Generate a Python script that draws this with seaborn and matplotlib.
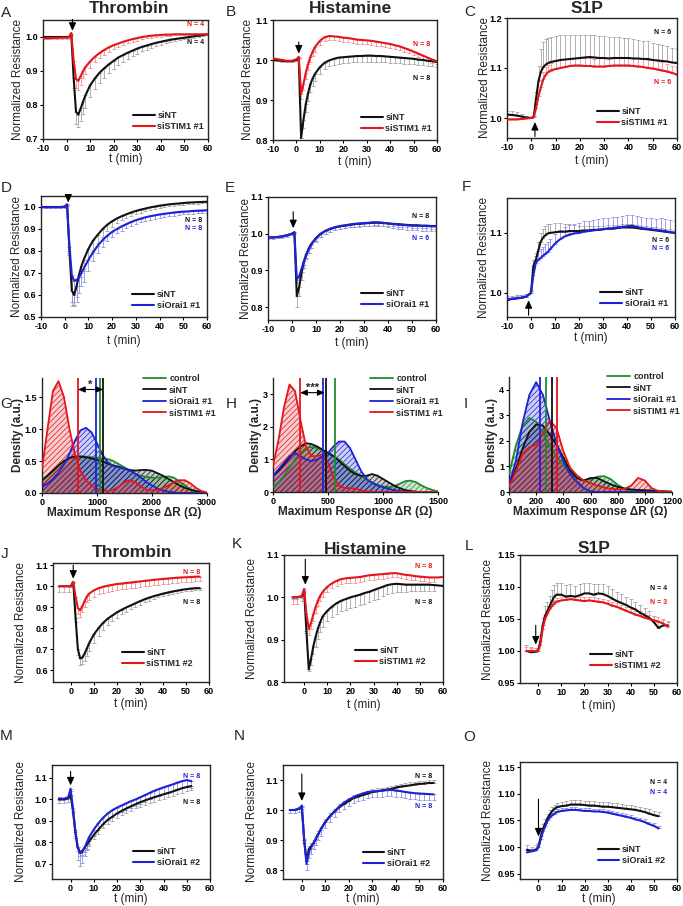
import numpy as np
import matplotlib
matplotlib.use("Agg")
import matplotlib.pyplot as plt
import matplotlib.transforms as mtransforms
from matplotlib.lines import Line2D
from matplotlib.ticker import FormatStrFormatter
import seaborn as sns

# ---------------- time course data (rows 1-2) ----------------
t_long = [-10, -8, -6, -4, -2, 0, 1, 2, 3, 4,
          5, 6, 7, 8, 10, 12, 14, 16, 18, 20,
          22, 24, 26, 28, 30, 32, 34, 36, 38, 40,
          42, 44, 46, 48, 50, 52, 54, 56, 58, 60]

a_nt = [1.0, 1.0, 1.0, 1.0, 1.0, 1.0, 1.0, 1.008, 0.88, 0.78,
        0.772, 0.79, 0.81, 0.828, 0.858, 0.878, 0.895, 0.908, 0.92, 0.93,
        0.94, 0.947, 0.954, 0.96, 0.966, 0.971, 0.975, 0.979, 0.983, 0.986,
        0.989, 0.992, 0.994, 0.996, 0.998, 1.0, 1.002, 1.004, 1.006, 1.008]
a_nt_err = [0, 0, 0, 0, 0, 0, 0, 0.004, 0.03, 0.035,
            0.038, 0.038, 0.037, 0.036, 0.034, 0.032, 0.03, 0.028, 0.026, 0.024,
            0.022, 0.02, 0.018, 0.016, 0.015, 0.013, 0.012, 0.011, 0.01, 0.009,
            0.008, 0.007, 0.006, 0.005, 0.005, 0.004, 0.004, 0.003, 0.003, 0.003]
a_stim = [0.996, 0.996, 0.997, 0.997, 0.998, 0.998, 0.999, 1.012, 0.93, 0.876,
          0.872, 0.885, 0.9, 0.912, 0.928, 0.942, 0.953, 0.962, 0.97, 0.976,
          0.981, 0.986, 0.99, 0.994, 0.997, 1.0, 1.002, 1.004, 1.005, 1.006,
          1.007, 1.007, 1.008, 1.008, 1.008, 1.008, 1.008, 1.008, 1.008, 1.008]
a_stim_err = [0.003, 0.003, 0.003, 0.003, 0.003, 0.003, 0.003, 0.005, 0.02, 0.025,
              0.027, 0.025, 0.022, 0.02, 0.018, 0.016, 0.015, 0.014, 0.013, 0.012,
              0.011, 0.01, 0.009, 0.008, 0.008, 0.007, 0.006, 0.006, 0.005, 0.005,
              0.004, 0.004, 0.003, 0.003, 0.003, 0.003, 0.002, 0.002, 0.002, 0.002]

b_nt = [1.0, 0.999, 0.998, 0.997, 0.997, 1.0, 1.004, 0.805, 0.85, 0.89,
        0.918, 0.94, 0.955, 0.966, 0.982, 0.993, 0.999, 1.003, 1.006, 1.007,
        1.008, 1.009, 1.01, 1.01, 1.011, 1.011, 1.01, 1.01, 1.009, 1.008,
        1.007, 1.006, 1.005, 1.004, 1.003, 1.001, 1.0, 0.998, 0.997, 0.995]
b_nt_err = [0.002, 0.002, 0.002, 0.002, 0.002, 0.002, 0.002, 0.0, 0.02, 0.02,
            0.02, 0.02, 0.019, 0.018, 0.017, 0.016, 0.015, 0.015, 0.015, 0.015,
            0.015, 0.015, 0.015, 0.015, 0.015, 0.015, 0.015, 0.015, 0.015, 0.015,
            0.014, 0.014, 0.014, 0.014, 0.013, 0.013, 0.013, 0.013, 0.012, 0.012]
b_stim = [1.004, 1.002, 1.0, 0.998, 0.998, 1.002, 1.008, 0.915, 0.94, 0.968,
          0.99, 1.008, 1.022, 1.033, 1.048, 1.057, 1.06, 1.059, 1.058, 1.056,
          1.055, 1.053, 1.051, 1.05, 1.049, 1.048, 1.046, 1.044, 1.042, 1.04,
          1.037, 1.034, 1.03, 1.026, 1.021, 1.016, 1.011, 1.006, 1.001, 0.997]
b_stim_err = [0.003, 0.003, 0.003, 0.003, 0.003, 0.003, 0.003, 0.012, 0.015, 0.015,
              0.015, 0.014, 0.013, 0.012, 0.011, 0.01, 0.01, 0.01, 0.01, 0.01,
              0.01, 0.01, 0.01, 0.01, 0.01, 0.01, 0.01, 0.01, 0.01, 0.01,
              0.01, 0.01, 0.009, 0.009, 0.009, 0.008, 0.008, 0.008, 0.008, 0.008]

c_nt = [1.007, 1.006, 1.005, 1.003, 1.001, 1.0, 1.002, 1.04, 1.075, 1.093,
        1.102, 1.107, 1.11, 1.112, 1.114, 1.116, 1.117, 1.118, 1.119, 1.12,
        1.121, 1.122, 1.121, 1.12, 1.12, 1.119, 1.12, 1.12, 1.12, 1.12,
        1.119, 1.119, 1.118, 1.118, 1.116, 1.115, 1.114, 1.113, 1.111, 1.11]
c_nt_err = [0.008, 0.008, 0.007, 0.006, 0.004, 0.003, 0.004, 0.012, 0.03, 0.045,
            0.05, 0.05, 0.05, 0.05, 0.05, 0.049, 0.048, 0.047, 0.046, 0.045,
            0.045, 0.044, 0.044, 0.044, 0.044, 0.043, 0.042, 0.041, 0.04, 0.039,
            0.038, 0.037, 0.036, 0.035, 0.034, 0.033, 0.031, 0.03, 0.028, 0.027]
c_stim = [0.997, 0.997, 0.997, 0.998, 0.999, 1.0, 1.002, 1.02, 1.045, 1.062,
          1.078, 1.087, 1.092, 1.095, 1.098, 1.1, 1.102, 1.104, 1.105, 1.105,
          1.104, 1.104, 1.103, 1.103, 1.103, 1.104, 1.105, 1.105, 1.105, 1.105,
          1.104, 1.103, 1.102, 1.1, 1.099, 1.097, 1.095, 1.093, 1.09, 1.087]
c_stim_err = [0.004, 0.004, 0.004, 0.003, 0.003, 0.003, 0.003, 0.008, 0.012, 0.015,
              0.015, 0.015, 0.015, 0.015, 0.015, 0.015, 0.015, 0.015, 0.015, 0.015,
              0.015, 0.015, 0.015, 0.016, 0.016, 0.016, 0.016, 0.016, 0.016, 0.016,
              0.016, 0.016, 0.016, 0.016, 0.016, 0.016, 0.016, 0.015, 0.015, 0.015]

d_nt = [1.0, 1.0, 1.0, 1.0, 1.0, 1.002, 1.012, 0.8, 0.62, 0.6,
        0.64, 0.69, 0.73, 0.76, 0.81, 0.848, 0.875, 0.9, 0.92, 0.935,
        0.948, 0.958, 0.967, 0.975, 0.982, 0.988, 0.993, 0.998, 1.002, 1.006,
        1.009, 1.012, 1.014, 1.016, 1.018, 1.02, 1.021, 1.022, 1.023, 1.024]
d_nt_err = [0.002, 0.002, 0.002, 0.002, 0.002, 0.002, 0.002, 0.02, 0.07, 0.05,
            0.05, 0.05, 0.05, 0.05, 0.05, 0.045, 0.04, 0.035, 0.03, 0.025,
            0.02, 0.018, 0.016, 0.015, 0.014, 0.013, 0.012, 0.011, 0.01, 0.01,
            0.01, 0.009, 0.009, 0.008, 0.008, 0.008, 0.007, 0.007, 0.007, 0.007]
d_orai = [1.0, 0.999, 0.999, 0.999, 0.999, 1.0, 1.008, 0.82, 0.69, 0.665,
          0.668, 0.68, 0.7, 0.72, 0.76, 0.795, 0.825, 0.85, 0.87, 0.887,
          0.9, 0.912, 0.922, 0.932, 0.94, 0.947, 0.953, 0.958, 0.962, 0.966,
          0.969, 0.972, 0.975, 0.977, 0.979, 0.98, 0.982, 0.983, 0.984, 0.985]
d_orai_err = [0.003, 0.003, 0.003, 0.003, 0.003, 0.003, 0.003, 0.03, 0.12, 0.11,
              0.1, 0.07, 0.06, 0.06, 0.05, 0.04, 0.035, 0.03, 0.025, 0.022,
              0.02, 0.02, 0.018, 0.018, 0.017, 0.016, 0.016, 0.015, 0.015, 0.015,
              0.015, 0.014, 0.014, 0.014, 0.013, 0.013, 0.013, 0.012, 0.012, 0.012]

e_nt = [0.99, 0.99, 0.991, 0.993, 0.996, 1.0, 1.004, 0.83, 0.855, 0.895,
        0.925, 0.945, 0.96, 0.972, 0.988, 1.0, 1.008, 1.013, 1.017, 1.02,
        1.022, 1.024, 1.026, 1.027, 1.028, 1.029, 1.03, 1.03, 1.029, 1.028,
        1.027, 1.026, 1.025, 1.024, 1.023, 1.023, 1.022, 1.022, 1.021, 1.021]
e_nt_err = [0.002, 0.002, 0.002, 0.002, 0.002, 0.002, 0.002, 0.03, 0.025, 0.02,
            0.018, 0.015, 0.013, 0.012, 0.01, 0.009, 0.008, 0.008, 0.007, 0.007,
            0.007, 0.007, 0.007, 0.007, 0.007, 0.007, 0.007, 0.007, 0.007, 0.007,
            0.007, 0.007, 0.007, 0.007, 0.007, 0.007, 0.007, 0.007, 0.007, 0.007]
e_orai = [0.99, 0.99, 0.991, 0.993, 0.996, 1.0, 1.004, 0.875, 0.885, 0.905,
          0.925, 0.943, 0.958, 0.97, 0.988, 1.0, 1.008, 1.014, 1.018, 1.021,
          1.023, 1.025, 1.027, 1.028, 1.029, 1.03, 1.031, 1.031, 1.03, 1.028,
          1.026, 1.025, 1.024, 1.023, 1.022, 1.022, 1.021, 1.021, 1.02, 1.02]
e_orai_err = [0.004, 0.004, 0.004, 0.004, 0.004, 0.004, 0.004, 0.01, 0.01, 0.01,
              0.01, 0.01, 0.01, 0.009, 0.009, 0.008, 0.008, 0.008, 0.008, 0.008,
              0.008, 0.008, 0.008, 0.009, 0.009, 0.009, 0.01, 0.01, 0.01, 0.011,
              0.011, 0.012, 0.012, 0.012, 0.013, 0.013, 0.013, 0.013, 0.013, 0.013]

f_nt = [0.988, 0.99, 0.991, 0.992, 0.994, 1.0, 1.045, 1.055, 1.07, 1.085,
        1.092, 1.096, 1.099, 1.1, 1.101, 1.102, 1.102, 1.103, 1.103, 1.103,
        1.104, 1.104, 1.105, 1.105, 1.106, 1.107, 1.107, 1.108, 1.109, 1.109,
        1.109, 1.108, 1.107, 1.106, 1.105, 1.104, 1.103, 1.102, 1.101, 1.1]
f_nt_err = [0.004, 0.004, 0.004, 0.004, 0.004, 0.004, 0.01, 0.012, 0.015, 0.015,
            0.015, 0.015, 0.015, 0.015, 0.015, 0.014, 0.013, 0.012, 0.01, 0.009,
            0.008, 0.007, 0.007, 0.006, 0.006, 0.006, 0.006, 0.005, 0.005, 0.005,
            0.005, 0.005, 0.005, 0.005, 0.005, 0.005, 0.005, 0.005, 0.005, 0.005]
f_orai = [0.99, 0.99, 0.991, 0.992, 0.994, 1.0, 1.03, 1.05, 1.055, 1.058,
          1.062, 1.065, 1.068, 1.073, 1.082, 1.089, 1.094, 1.097, 1.099, 1.1,
          1.102, 1.103, 1.104, 1.105, 1.106, 1.107, 1.108, 1.109, 1.11, 1.111,
          1.112, 1.11, 1.108, 1.107, 1.106, 1.105, 1.104, 1.103, 1.101, 1.1]
f_orai_err = [0.005, 0.005, 0.005, 0.005, 0.005, 0.005, 0.01, 0.012, 0.015, 0.015,
              0.015, 0.016, 0.016, 0.016, 0.016, 0.016, 0.016, 0.016, 0.016, 0.017,
              0.017, 0.017, 0.017, 0.018, 0.018, 0.018, 0.018, 0.018, 0.018, 0.018,
              0.018, 0.018, 0.018, 0.018, 0.018, 0.018, 0.02, 0.02, 0.02, 0.02]

# ---------------- time course data (rows 4-5) ----------------
t_short = [-5, -3, -1, 0, 1, 2, 3, 4, 5, 6,
           7, 8, 10, 12, 14, 16, 18, 20, 22, 24,
           26, 28, 30, 32, 34, 36, 38, 40, 42, 44,
           46, 48, 50, 52, 54, 56, 58, 60]

j_nt = [1.0, 1.0, 1.0, 1.0, 1.02, 0.85, 0.7, 0.655, 0.66, 0.68,
        0.705, 0.73, 0.77, 0.8, 0.825, 0.845, 0.86, 0.875, 0.887, 0.898,
        0.908, 0.918, 0.928, 0.937, 0.945, 0.952, 0.958, 0.964, 0.969, 0.974,
        0.978, 0.982, 0.985, 0.988, 0.99, 0.99]
j_nt_err = [0.003, 0.003, 0.003, 0.003, 0.003, 0.02, 0.03, 0.03, 0.03, 0.035,
            0.04, 0.04, 0.04, 0.038, 0.035, 0.03, 0.027, 0.025, 0.022, 0.02,
            0.018, 0.017, 0.016, 0.015, 0.014, 0.013, 0.012, 0.012, 0.011, 0.011,
            0.01, 0.01, 0.01, 0.01, 0.01, 0.01]
j_stim = [1.0, 1.0, 1.0, 1.0, 1.02, 0.95, 0.895, 0.885, 0.905, 0.93,
          0.952, 0.965, 0.98, 0.99, 0.997, 1.002, 1.006, 1.01, 1.012, 1.015,
          1.017, 1.02, 1.022, 1.025, 1.027, 1.03, 1.032, 1.034, 1.036, 1.038,
          1.04, 1.041, 1.042, 1.043, 1.045, 1.045]
j_stim_err = [0.03, 0.03, 0.03, 0.0, 0.005, 0.03, 0.03, 0.03, 0.03, 0.03,
              0.03, 0.03, 0.03, 0.03, 0.03, 0.03, 0.03, 0.03, 0.028, 0.028,
              0.028, 0.027, 0.027, 0.026, 0.026, 0.025, 0.025, 0.025, 0.024, 0.024,
              0.023, 0.023, 0.022, 0.022, 0.021, 0.02]

k_nt = [1.0, 1.0, 1.002, 1.015, 0.92, 0.83, 0.855, 0.885, 0.908, 0.927,
        0.942, 0.955, 0.968, 0.978, 0.986, 0.992, 0.996, 1.0, 1.003, 1.006,
        1.01, 1.013, 1.017, 1.021, 1.025, 1.029, 1.031, 1.032, 1.031, 1.03,
        1.03, 1.03, 1.03, 1.03, 1.03, 1.029, 1.028, 1.027]
k_nt_err = [0.003, 0.003, 0.003, 0.003, 0.005, 0.005, 0.015, 0.02, 0.025, 0.025,
            0.025, 0.025, 0.025, 0.025, 0.025, 0.025, 0.025, 0.025, 0.025, 0.025,
            0.025, 0.025, 0.024, 0.024, 0.023, 0.022, 0.02, 0.02, 0.018, 0.017,
            0.016, 0.015, 0.015, 0.015, 0.015, 0.015, 0.0, 0.0]
k_stim = [1.0, 1.0, 1.003, 1.02, 0.96, 0.925, 0.94, 0.96, 0.978, 0.993,
          1.004, 1.013, 1.025, 1.033, 1.039, 1.043, 1.045, 1.046, 1.047, 1.048,
          1.05, 1.052, 1.053, 1.054, 1.055, 1.056, 1.057, 1.057, 1.055, 1.053,
          1.052, 1.05, 1.049, 1.048, 1.047, 1.047, 1.047, 1.048]
k_stim_err = [0.015, 0.015, 0.012, 0.01, 0.01, 0.015, 0.015, 0.015, 0.014, 0.013,
              0.013, 0.012, 0.012, 0.012, 0.012, 0.012, 0.012, 0.012, 0.012, 0.012,
              0.011, 0.011, 0.011, 0.011, 0.011, 0.011, 0.01, 0.01, 0.01, 0.01,
              0.01, 0.01, 0.01, 0.01, 0.01, 0.01, 0.0, 0.0]

l_nt = [1.0, 0.998, 0.999, 1.0, 1.015, 1.04, 1.055, 1.062, 1.07, 1.078,
        1.085, 1.088, 1.088, 1.085, 1.086, 1.085, 1.087, 1.09, 1.09, 1.088,
        1.09, 1.089, 1.086, 1.082, 1.078, 1.075, 1.072, 1.068, 1.065, 1.06,
        1.056, 1.052, 1.045, 1.036, 1.04, 1.04]
l_nt_err = [0.01, 0.008, 0.005, 0.004, 0.01, 0.012, 0.015, 0.015, 0.016, 0.017,
            0.018, 0.018, 0.018, 0.018, 0.018, 0.017, 0.017, 0.016, 0.016, 0.016,
            0.015, 0.015, 0.015, 0.015, 0.014, 0.014, 0.013, 0.013, 0.012, 0.012,
            0.011, 0.01, 0.01, 0.01, 0.008, 0.007]
l_stim = [1.0, 1.0, 1.0, 1.0, 1.01, 1.035, 1.05, 1.058, 1.065, 1.07,
          1.074, 1.077, 1.079, 1.08, 1.081, 1.08, 1.079, 1.078, 1.079, 1.078,
          1.077, 1.076, 1.074, 1.071, 1.069, 1.066, 1.063, 1.06, 1.057, 1.055,
          1.052, 1.05, 1.048, 1.046, 1.043, 1.038]
l_stim_err = [0.006, 0.005, 0.005, 0.004, 0.005, 0.006, 0.006, 0.006, 0.006, 0.006,
              0.006, 0.006, 0.006, 0.006, 0.006, 0.006, 0.006, 0.006, 0.006, 0.006,
              0.006, 0.006, 0.006, 0.006, 0.006, 0.006, 0.006, 0.006, 0.006, 0.007,
              0.007, 0.007, 0.007, 0.007, 0.007, 0.007]

m_nt = [1.0, 1.0, 1.005, 1.02, 0.95, 0.85, 0.78, 0.755, 0.76, 0.775,
        0.79, 0.805, 0.835, 0.86, 0.885, 0.905, 0.92, 0.935, 0.947, 0.958,
        0.968, 0.978, 0.987, 0.995, 1.003, 1.01, 1.017, 1.024, 1.03, 1.037,
        1.045, 1.052, 1.058, 1.062]
m_nt_err = [0.005, 0.005, 0.005, 0.005, 0.01, 0.02, 0.02, 0.02, 0.02, 0.02,
            0.02, 0.02, 0.02, 0.02, 0.02, 0.02, 0.02, 0.02, 0.02, 0.02,
            0.02, 0.02, 0.02, 0.02, 0.02, 0.02, 0.02, 0.02, 0.02, 0.02,
            0.02, 0.02, 0.02, 0.02]
m_orai = [1.005, 1.003, 1.01, 1.05, 0.96, 0.86, 0.78, 0.75, 0.755, 0.775,
          0.8, 0.825, 0.86, 0.89, 0.915, 0.935, 0.95, 0.962, 0.972, 0.982,
          0.992, 1.0, 1.01, 1.02, 1.03, 1.04, 1.048, 1.056, 1.063, 1.07,
          1.078, 1.085, 1.09, 1.085]
m_orai_err = [0.02, 0.02, 0.02, 0.01, 0.02, 0.04, 0.06, 0.06, 0.05, 0.04,
              0.035, 0.03, 0.03, 0.03, 0.03, 0.03, 0.03, 0.03, 0.03, 0.03,
              0.03, 0.03, 0.03, 0.03, 0.03, 0.03, 0.03, 0.03, 0.03, 0.03,
              0.03, 0.03, 0.03, 0.03]

n_nt = [1.0, 1.0, 1.005, 1.01, 0.9, 0.83, 0.87, 0.88, 0.89, 0.905,
        0.92, 0.935, 0.96, 0.98, 0.995, 1.01, 1.02, 1.03, 1.04, 1.045,
        1.05, 1.055, 1.06, 1.062, 1.065, 1.068, 1.07, 1.075, 1.078, 1.08,
        1.082, 1.085, 1.087, 1.088, 1.09, 1.09]
n_nt_err = [0.005, 0.005, 0.005, 0.005, 0.005, 0.005, 0.01, 0.01, 0.01, 0.01,
            0.01, 0.01, 0.01, 0.01, 0.01, 0.01, 0.01, 0.01, 0.01, 0.01,
            0.01, 0.01, 0.01, 0.01, 0.01, 0.01, 0.01, 0.01, 0.01, 0.01,
            0.01, 0.01, 0.01, 0.01, 0.01, 0.01]
n_orai = [1.0, 1.0, 1.005, 1.015, 0.9, 0.82, 0.86, 0.875, 0.89, 0.905,
          0.92, 0.935, 0.96, 0.98, 0.997, 1.012, 1.025, 1.035, 1.043, 1.05,
          1.055, 1.06, 1.062, 1.063, 1.065, 1.066, 1.067, 1.065, 1.063, 1.06,
          1.058, 1.056, 1.055, 1.054, 1.053, 1.052]
n_orai_err = [0.01, 0.01, 0.01, 0.01, 0.01, 0.02, 0.02, 0.02, 0.02, 0.02,
              0.02, 0.02, 0.02, 0.02, 0.02, 0.02, 0.02, 0.02, 0.02, 0.02,
              0.02, 0.02, 0.02, 0.02, 0.02, 0.02, 0.02, 0.02, 0.02, 0.02,
              0.02, 0.02, 0.02, 0.02, 0.02, 0.02]

o_nt = [0.995, 0.993, 0.995, 1.0, 1.02, 1.035, 1.045, 1.055, 1.062, 1.068,
        1.072, 1.075, 1.077, 1.078, 1.08, 1.08, 1.08, 1.079, 1.078, 1.078,
        1.077, 1.076, 1.076, 1.075, 1.074, 1.073, 1.072, 1.071, 1.07, 1.068,
        1.066, 1.063, 1.06, 1.058]
o_nt_err = [0.008, 0.008, 0.008, 0.008, 0.008, 0.008, 0.008, 0.008, 0.008, 0.008,
            0.008, 0.008, 0.008, 0.008, 0.008, 0.008, 0.008, 0.008, 0.008, 0.008,
            0.008, 0.008, 0.008, 0.008, 0.008, 0.008, 0.008, 0.008, 0.008, 0.008,
            0.008, 0.008, 0.008, 0.008]
o_orai = [0.99, 0.992, 0.994, 1.0, 1.015, 1.03, 1.04, 1.05, 1.056, 1.06,
          1.063, 1.066, 1.068, 1.069, 1.07, 1.07, 1.069, 1.068, 1.068, 1.067,
          1.067, 1.066, 1.065, 1.063, 1.061, 1.059, 1.057, 1.055, 1.052, 1.05,
          1.047, 1.043, 1.04, 1.035]
o_orai_err = [0.005, 0.005, 0.005, 0.005, 0.005, 0.005, 0.005, 0.005, 0.005, 0.005,
              0.005, 0.005, 0.005, 0.005, 0.005, 0.005, 0.005, 0.005, 0.005, 0.005,
              0.005, 0.005, 0.005, 0.005, 0.005, 0.005, 0.005, 0.005, 0.005, 0.005,
              0.005, 0.005, 0.005, 0.005]

# ---------------- density data (row 3) ----------------
dens_labels = ['control', 'siNT', 'siOrai1 #1', 'siSTIM1 #1']

g_x = [0, 100, 200, 300, 400, 500, 600, 700, 800, 900,
       1000, 1100, 1200, 1300, 1400, 1500, 1600, 1700, 1800, 1900,
       2000, 2100, 2200, 2300, 2400, 2500, 2600, 2700, 2800, 2900, 3000]
g_ctrl = [0.2, 0.27, 0.35, 0.43, 0.5, 0.55, 0.57, 0.575, 0.57, 0.56,
          0.55, 0.54, 0.53, 0.5, 0.45, 0.4, 0.35, 0.3, 0.27, 0.25,
          0.24, 0.24, 0.25, 0.26, 0.24, 0.18, 0.12, 0.06, 0.03, 0.01, 0.0]
g_nt = [0.2, 0.27, 0.35, 0.43, 0.5, 0.55, 0.57, 0.57, 0.56, 0.54,
        0.52, 0.49, 0.46, 0.43, 0.41, 0.38, 0.36, 0.35, 0.36, 0.36,
        0.35, 0.31, 0.27, 0.22, 0.17, 0.12, 0.08, 0.05, 0.03, 0.01, 0.0]
g_orai = [0.1, 0.15, 0.22, 0.32, 0.45, 0.62, 0.82, 0.98, 1.02, 0.95,
          0.78, 0.6, 0.48, 0.42, 0.4, 0.38, 0.35, 0.3, 0.24, 0.17,
          0.12, 0.07, 0.04, 0.02, 0.01, 0.0, 0.0, 0.0, 0.0, 0.0, 0.0]
g_stim = [0.38, 1.0, 1.6, 1.75, 1.5, 1.0, 0.6, 0.35, 0.2, 0.12,
          0.07, 0.04, 0.03, 0.05, 0.1, 0.17, 0.2, 0.17, 0.1, 0.05,
          0.04, 0.05, 0.08, 0.12, 0.17, 0.2, 0.2, 0.15, 0.08, 0.03, 0.01]
g_vlines = [1054, 1115, 976, 654]

h_x = [0, 50, 100, 150, 200, 250, 300, 350, 400, 450,
       500, 550, 600, 650, 700, 750, 800, 850, 900, 950,
       1000, 1050, 1100, 1150, 1200, 1250, 1300, 1350, 1400, 1450, 1500]
h_ctrl = [0.15, 0.3, 0.5, 0.75, 1.0, 1.2, 1.35, 1.38, 1.35, 1.28,
          1.2, 1.1, 1.0, 0.85, 0.72, 0.6, 0.48, 0.38, 0.3, 0.22,
          0.17, 0.15, 0.18, 0.25, 0.33, 0.35, 0.3, 0.2, 0.12, 0.06, 0.02]
h_nt = [0.5, 0.65, 0.85, 1.05, 1.25, 1.4, 1.5, 1.47, 1.4, 1.3,
        1.2, 1.1, 0.95, 0.8, 0.65, 0.55, 0.5, 0.5, 0.55, 0.5,
        0.4, 0.3, 0.2, 0.12, 0.06, 0.03, 0.01, 0.0, 0.0, 0.0, 0.0]
h_orai = [0.5, 0.7, 0.9, 1.1, 1.2, 1.1, 1.0, 0.95, 1.0, 1.08,
          1.2, 1.4, 1.55, 1.55, 1.35, 1.0, 0.65, 0.4, 0.28, 0.2,
          0.15, 0.1, 0.06, 0.03, 0.01, 0.0, 0.0, 0.0, 0.0, 0.0, 0.0]
h_stim = [0.8, 1.6, 2.6, 3.3, 3.1, 2.2, 1.4, 1.1, 1.1, 1.15,
          0.9, 0.45, 0.2, 0.12, 0.12, 0.1, 0.05, 0.02, 0.0, 0.0,
          0.0, 0.0, 0.0, 0.0, 0.0, 0.0, 0.0, 0.0, 0.0, 0.0, 0.0]
h_vlines = [564, 478, 453, 246]

i_x = [0, 50, 100, 150, 200, 250, 300, 350, 400, 450,
       500, 550, 600, 650, 700, 750, 800, 850, 900, 950,
       1000, 1050, 1100, 1150, 1200]
i_ctrl = [0.7, 1.8, 2.6, 2.9, 2.75, 2.3, 1.8, 1.4, 1.05, 0.75,
          0.55, 0.45, 0.5, 0.6, 0.62, 0.5, 0.28, 0.12, 0.06, 0.05,
          0.05, 0.05, 0.04, 0.03, 0.02]
i_nt = [0.3, 0.9, 1.7, 2.35, 2.65, 2.6, 2.25, 1.85, 1.35, 0.85,
        0.55, 0.45, 0.55, 0.55, 0.42, 0.3, 0.2, 0.14, 0.1, 0.08,
        0.07, 0.05, 0.03, 0.02, 0.01]
i_orai = [0.3, 1.2, 2.7, 3.8, 4.3, 3.8, 2.8, 1.9, 1.2, 0.7,
          0.4, 0.15, 0.03, 0.0, 0.0, 0.0, 0.0, 0.0, 0.0, 0.0,
          0.0, 0.0, 0.0, 0.0, 0.0]
i_stim = [0.2, 0.8, 1.5, 1.75, 1.85, 2.3, 2.8, 2.5, 1.6, 0.95,
          0.65, 0.45, 0.35, 0.25, 0.18, 0.13, 0.1, 0.12, 0.25, 0.55,
          0.45, 0.15, 0.04, 0.01, 0.0]
i_vlines = [275, 317, 231, 353]

# ---------------- styling ----------------
sns.set_theme(style="ticks")
plt.rcParams['font.family'] = ['Liberation Sans', 'DejaVu Sans']
plt.rcParams['hatch.linewidth'] = 0.5
plt.rcParams['axes.linewidth'] = 1.0

W, H = 683, 906
fig = plt.figure(figsize=(W / 100, H / 100), dpi=100)

BLACK = '#111111'
RED = '#e3161c'
BLUE = '#1d22d6'
GREEN = '#1f8a2e'
ERR = {BLACK: '#a3a3a3', RED: '#f09090', BLUE: '#9090e8'}
TICK_SIZE = 6.5


def fx(x):
    return x / W


def fy(y):
    return 1 - y / H


def new_ax(l, t, r, b):
    return fig.add_axes([l / W, 1 - b / H, (r - l) / W, (b - t) / H])


def style_ticks(ax, xfmt, yfmt):
    ax.tick_params(direction='out', length=2.5, width=0.8, labelsize=TICK_SIZE,
                   pad=1.0, colors='black')
    ax.xaxis.set_major_formatter(FormatStrFormatter(xfmt))
    ax.yaxis.set_major_formatter(FormatStrFormatter(yfmt))
    for lab in ax.get_xticklabels() + ax.get_yticklabels():
        lab.set_fontweight('bold')


def labels(ax, xl, yl, xl_cy, yl_cx, bold=False, size=8.5):
    w = 'bold' if bold else 'normal'
    ax.set_xlabel(xl, fontsize=size, fontweight=w)
    ax.set_ylabel(yl, fontsize=size, fontweight=w)
    ax.xaxis.set_label_coords(0.5, fy(xl_cy),
                              transform=mtransforms.blended_transform_factory(ax.transAxes, fig.transFigure))
    ax.yaxis.set_label_coords(fx(yl_cx), 0.5,
                              transform=mtransforms.blended_transform_factory(fig.transFigure, ax.transAxes))
    ax.xaxis.label.set_va('center')
    ax.yaxis.label.set_va('center')


def course(box, t, series, xlim, ylim, xticks, yticks, yfmt, legend_rb,
           xl_cy, yl_cx, arrow, ntext):
    ax = new_ax(*box)
    for y, e, c, up, lab in series:
        tt = t[:len(y)]
        z = np.zeros(len(y))
        yerr = [z, np.array(e)] if up else [np.array(e), z]
        ax.errorbar(tt, y, yerr=yerr, fmt='none', ecolor=ERR[c], elinewidth=0.6,
                    capsize=1.3, capthick=0.6, zorder=1)
    for y, e, c, up, lab in series:
        sns.lineplot(x=t[:len(y)], y=y, ax=ax, color=c, lw=1.5, legend=False, zorder=3)
    ax.set_xlim(*xlim)
    ax.set_ylim(*ylim)
    ax.set_xticks(xticks)
    ax.set_yticks(yticks)
    style_ticks(ax, '%d', yfmt)
    labels(ax, 't (min)', 'Normalized Resistance', xl_cy, yl_cx)
    handles = [Line2D([], [], color=s[2], lw=1.5) for s in series]
    ax.legend(handles, [s[4] for s in series], loc='lower right',
              bbox_to_anchor=(fx(legend_rb[0]), fy(legend_rb[1])),
              bbox_transform=fig.transFigure, frameon=False,
              prop=dict(weight='bold', size=6.5), handlelength=2.4,
              handletextpad=0.3, labelspacing=0.25, borderpad=0, borderaxespad=0)
    at, a0, a1 = arrow
    ax.annotate('', xy=(at, a1), xytext=(at, a0), annotation_clip=False,
                arrowprops=dict(arrowstyle='-|>,head_length=0.4,head_width=0.18',
                                color='black', lw=0.8, shrinkA=0, shrinkB=0))
    for txt, c, x, y in ntext:
        fig.text(fx(x), fy(y), txt, color=c, fontsize=5, fontweight='bold',
                 ha='right', va='center')
    return ax


def density(box, x, curves, vlines, xlim, ylim, xticks, yticks, yfmt,
            legend_lt, xl_cy, yl_cx, sig):
    ax = new_ax(*box)
    colors = [GREEN, BLACK, BLUE, RED]
    for y, c in zip(curves, colors):
        rgb = matplotlib.colors.to_rgb(c)
        ax.fill_between(x, 0, y, facecolor=rgb + (0.22,), edgecolor=c,
                        hatch='//////', lw=0, zorder=1)
    for y, c, lab in zip(curves, colors, dens_labels):
        sns.lineplot(x=x, y=y, ax=ax, color=c, lw=1.3, legend=False, zorder=3)
    for v, c in zip(vlines, colors):
        ax.axvline(v, color=c, lw=1.3, zorder=4)
    ax.set_xlim(*xlim)
    ax.set_ylim(*ylim)
    ax.set_xticks(xticks)
    ax.set_yticks(yticks)
    sns.despine(ax=ax)
    style_ticks(ax, '%d', yfmt)
    labels(ax, 'Maximum Response ΔR (Ω)', 'Density (a.u.)', xl_cy, yl_cx,
           bold=True, size=8.5)
    handles = [Line2D([], [], color=c, lw=1.3) for c in colors]
    ax.legend(handles, dens_labels, loc='upper left',
              bbox_to_anchor=(fx(legend_lt[0]), fy(legend_lt[1])),
              bbox_transform=fig.transFigure, frameon=False,
              prop=dict(weight='bold', size=6.5), handlelength=2.6,
              handletextpad=0.3, labelspacing=0.28, borderpad=0, borderaxespad=0)
    x0, x1, ya, mark = sig
    if mark:
        ax.annotate('', xy=(x0, ya), xytext=(x1, ya),
                    arrowprops=dict(arrowstyle='<|-|>,head_length=0.35,head_width=0.15',
                                    color='black', lw=0.8, shrinkA=0, shrinkB=0), zorder=5)
        ax.text((x0 + x1) / 2, ya, mark, ha='center', va='bottom', fontsize=8,
                fontweight='bold')
    return ax


# ---------------- row 1 ----------------
course((43, 20, 208, 139), t_long,
       [(a_nt, a_nt_err, BLACK, False, 'siNT'),
        (a_stim, a_stim_err, RED, False, 'siSTIM1 #1')],
       (-10, 60), (0.7, 1.05), range(-10, 61, 10), [0.7, 0.8, 0.9, 1.0], '%.1f',
       (204, 131), 159, 18, (2.5, 1.052, 1.018),
       [('N = 4', RED, 204, 25), ('N = 4', BLACK, 204, 43)])
course((273, 20, 437, 140), t_long,
       [(b_nt, b_nt_err, BLACK, False, 'siNT'),
        (b_stim, b_stim_err, RED, False, 'siSTIM1 #1')],
       (-10, 60), (0.8, 1.1), range(-10, 61, 10), [0.8, 0.9, 1.0, 1.1], '%.1f',
       (432, 133), 162, 248, (1.0, 1.045, 1.016),
       [('N = 8', RED, 430, 45), ('N = 8', BLACK, 430, 79)])
course((507, 18, 677, 138), t_long,
       [(c_nt, c_nt_err, BLACK, True, 'siNT'),
        (c_stim, c_stim_err, RED, True, 'siSTIM1 #1')],
       (-10, 60), (0.96, 1.2), range(-10, 61, 10), [1.0, 1.1, 1.2], '%.1f',
       (668, 127), 161, 485, (1.5, 0.963, 0.992),
       [('N = 6', BLACK, 671, 33), ('N = 6', RED, 671, 82)])

# ---------------- row 2 ----------------
course((41, 196, 207, 317), t_long,
       [(d_nt, d_nt_err, BLACK, False, 'siNT'),
        (d_orai, d_orai_err, BLUE, False, 'siOrai1 #1')],
       (-10, 60), (0.5, 1.05), range(-10, 61, 10),
       [0.5, 0.6, 0.7, 0.8, 0.9, 1.0], '%.1f',
       (200, 310), 341, 17, (1.5, 1.052, 1.02),
       [('N = 8', BLACK, 202, 221), ('N = 8', BLUE, 202, 228)])
course((268, 197, 436, 320), t_long,
       [(e_nt, e_nt_err, BLACK, False, 'siNT'),
        (e_orai, e_orai_err, BLUE, False, 'siOrai1 #1')],
       (-10, 60), (0.765, 1.1), range(-10, 61, 10), [0.8, 0.9, 1.0, 1.1], '%.1f',
       (429, 309), 343, 246, (0.5, 1.06, 1.015),
       [('N = 8', BLACK, 429, 217), ('N = 6', BLUE, 429, 238)])
course((507, 198, 675, 317), t_long,
       [(f_nt, f_nt_err, BLACK, True, 'siNT'),
        (f_orai, f_orai_err, BLUE, True, 'siOrai1 #1')],
       (-10, 60), (0.96, 1.158), range(-10, 61, 10), [1.0, 1.1], '%.1f',
       (668, 308), 338, 484, (-1.0, 0.963, 0.988),
       [('N = 6', BLACK, 669, 241), ('N = 6', BLUE, 669, 248)])

# ---------------- row 3 ----------------
density((42, 378, 207, 493), g_x, [g_ctrl, g_nt, g_orai, g_stim], g_vlines,
        (0, 3000), (0, 1.8), [0, 1000, 2000, 3000], [0.0, 0.5, 1.0, 1.5], '%.1f',
        (143, 374), 513, 18, (654, 1115, 1.62, '*'))
density((273, 378, 438, 492), h_x, [h_ctrl, h_nt, h_orai, h_stim], h_vlines,
        (0, 1500), (0, 3.5), [0, 500, 1000, 1500], [0, 1, 2, 3], '%d',
        (370, 374), 512, 256, (246, 470, 3.05, '***'))
density((509, 377, 672, 492), i_x, [i_ctrl, i_nt, i_orai, i_stim], i_vlines,
        (0, 1200), (0, 4.5), [0, 200, 400, 600, 800, 1000, 1200], [0, 1, 2, 3, 4], '%d',
        (607, 372), 512, 492, (0, 0, 0, ''))

# ---------------- row 4 ----------------
course((53, 563, 209, 682), t_short,
       [(j_nt, j_nt_err, BLACK, False, 'siNT'),
        (j_stim, j_stim_err, RED, False, 'siSTIM1 #2')],
       (-7.8, 60), (0.543, 1.11), range(0, 61, 10),
       [0.6, 0.7, 0.8, 0.9, 1.0, 1.1], '%.1f',
       (193, 668), 704, 21, (1.0, 1.1, 1.035),
       [('N = 8', RED, 200, 573), ('N = 8', BLACK, 200, 603)])
course((284, 555, 443, 682), t_short,
       [(k_nt, k_nt_err, BLACK, False, 'siNT'),
        (k_stim, k_stim_err, RED, False, 'siSTIM1 #2')],
       (-8.7, 60), (0.8, 1.1), range(0, 61, 10), [0.8, 0.9, 1.0, 1.1], '%.1f',
       (426, 666), 705, 252, (0.5, 1.09, 1.03),
       [('N = 8', RED, 432, 567), ('N = 8', BLACK, 432, 603)])
course((520, 555, 677, 683), t_short,
       [(l_nt, l_nt_err, BLACK, True, 'siNT'),
        (l_stim, l_stim_err, RED, True, 'siSTIM1 #2')],
       (-7.8, 60), (0.95, 1.15), range(0, 61, 10),
       [0.95, 1.0, 1.05, 1.1, 1.15], '%.2f',
       (661, 670), 706, 488, (-1.0, 1.04, 1.01),
       [('N = 4', BLACK, 667, 589), ('N = 3', RED, 667, 602)])

# ---------------- row 5 ----------------
course((52, 765, 210, 879), t_short,
       [(m_nt, m_nt_err, BLACK, False, 'siNT'),
        (m_orai, m_orai_err, BLUE, False, 'siOrai1 #2')],
       (-8, 60), (0.63, 1.16), range(0, 61, 10),
       [0.7, 0.8, 0.9, 1.0, 1.1], '%.1f',
       (200, 867), 899, 21, (0.0, 1.13, 1.065),
       [('N = 8', BLUE, 200, 777), ('N = 8', BLACK, 200, 803)])
course((283, 765, 443, 879), t_short,
       [(n_nt, n_nt_err, BLACK, True, 'siNT'),
        (n_orai, n_orai_err, BLUE, False, 'siOrai1 #2')],
       (-8, 60), (0.77, 1.15), range(0, 61, 10), [0.8, 0.9, 1.0, 1.1], '%.1f',
       (430, 868), 899, 252, (0.0, 1.12, 1.03),
       [('N = 8', BLACK, 432, 777), ('N = 8', BLUE, 432, 806)])
course((520, 762, 677, 879), t_short,
       [(o_nt, o_nt_err, BLACK, True, 'siNT'),
        (o_orai, o_orai_err, BLUE, True, 'siOrai1 #2')],
       (-8, 60), (0.94, 1.16), range(0, 61, 10),
       [0.95, 1.0, 1.05, 1.1, 1.15], '%.2f',
       (665, 865), 899, 488, (0.0, 1.09, 1.02),
       [('N = 4', BLACK, 667, 783), ('N = 4', BLUE, 667, 793)])

# ---------------- titles and panel letters ----------------
for txt, x, y in [('Thrombin', 129, 13), ('Histamine', 350, 13), ('S1P', 587, 13),
                  ('Thrombin', 132, 557), ('Histamine', 365, 554), ('S1P', 594, 553)]:
    fig.text(fx(x), fy(y), txt, fontsize=12.5, fontweight='bold', ha='center',
             va='baseline')

for txt, x, y in [('A', 6, 13), ('B', 231, 12), ('C', 470, 12),
                  ('D', 6, 188), ('E', 230, 188), ('F', 466, 187),
                  ('G', 6, 404), ('H', 231, 404), ('I', 466, 404),
                  ('J', 5, 554), ('K', 237, 544), ('L', 469, 546),
                  ('M', 6, 736), ('N', 239, 736), ('O', 469, 737)]:
    fig.text(fx(x), fy(y), txt, fontsize=11, ha='center', va='center')

fig.savefig('out.png', dpi=100)
